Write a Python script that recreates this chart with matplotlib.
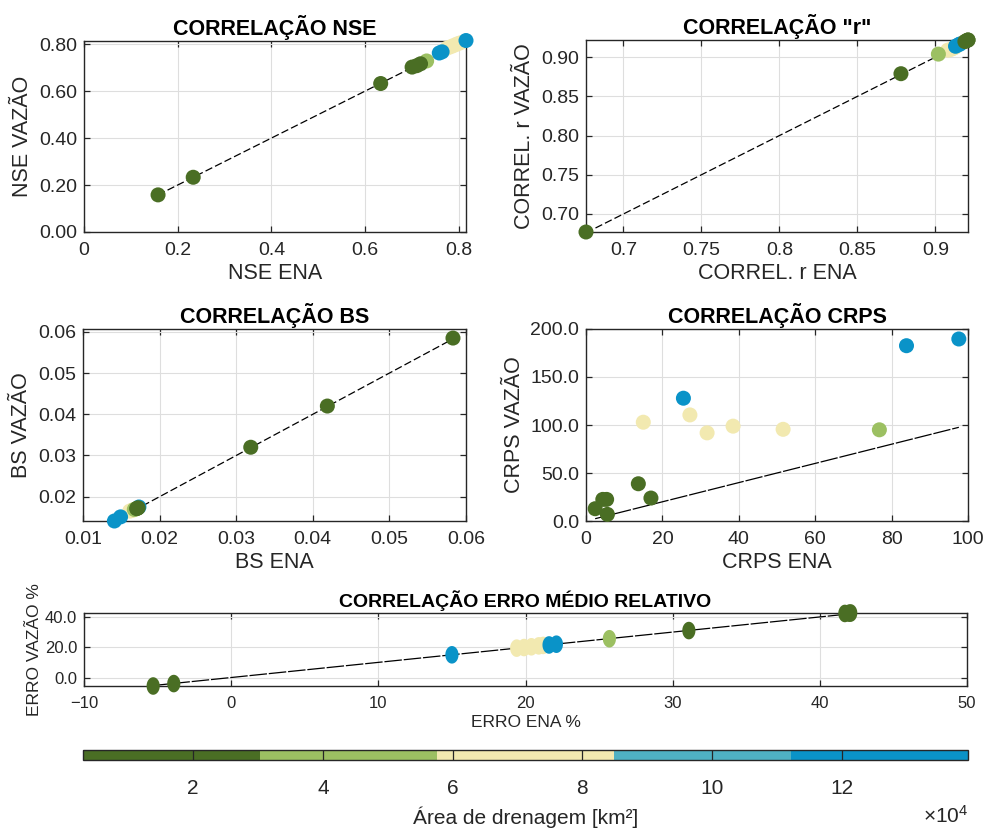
import numpy as np
import matplotlib
matplotlib.use("Agg")
import matplotlib.pyplot as plt
from matplotlib.colors import ListedColormap, Normalize
from matplotlib.path import Path

plt.rcParams["font.family"] = ["Liberation Sans", "DejaVu Sans"]

# --- dados (ordem das estacoes: creme, verde claro, azul, verde escuro) ---
area = [6.1e4, 6.6e4, 7.1e4, 7.6e4, 8.2e4,
        4.4e4,
        11.8e4, 12.6e4, 13.5e4,
        0.6e4, 0.9e4, 1.3e4, 1.8e4, 2.2e4, 2.7e4]

nse_ena = [0.775, 0.783, 0.790, 0.797, 0.804, 0.731, 0.758, 0.764, 0.815,
           0.158, 0.233, 0.633, 0.700, 0.710, 0.718]
nse_vaz = [0.783, 0.789, 0.795, 0.801, 0.806, 0.728, 0.762, 0.767, 0.815,
           0.158, 0.233, 0.632, 0.702, 0.708, 0.716]

r_ena = [0.908, 0.910, 0.911, 0.912, 0.913, 0.902, 0.913, 0.915, 0.916,
         0.676, 0.878, 0.919, 0.920, 0.921, 0.921]
r_vaz = [0.909, 0.910, 0.911, 0.912, 0.913, 0.904, 0.914, 0.916, 0.917,
         0.677, 0.879, 0.920, 0.921, 0.922, 0.922]

bs_ena = [0.0161, 0.0164, 0.0166, 0.0168, 0.0171, 0.0167, 0.0141, 0.0149, 0.0173,
          0.0583, 0.0419, 0.0319, 0.0172, 0.0170, 0.0171]
bs_vaz = [0.0165, 0.0167, 0.0168, 0.0170, 0.0172, 0.0169, 0.0141, 0.0151, 0.0175,
          0.0585, 0.0420, 0.0320, 0.0173, 0.0171, 0.0172]

crps_ena = [15.0, 27.2, 31.7, 38.5, 51.6, 76.8, 25.5, 83.9, 97.6,
            2.4, 4.4, 5.4, 5.6, 13.7, 17.0]
crps_vaz = [102.9, 110.5, 91.8, 98.8, 95.5, 95.0, 127.9, 182.6, 189.6,
            12.8, 22.5, 22.5, 6.9, 38.8, 23.9]

erro_ena = [19.4, 19.9, 20.4, 20.9, 21.2, 25.7, 15.0, 21.6, 22.1,
            -5.3, -3.9, 31.1, 41.7, 42.0, 42.1]
erro_vaz = [19.4, 19.8, 20.3, 20.9, 21.2, 25.6, 15.0, 21.5, 22.0,
            -5.6, -4.0, 31.0, 42.3, 42.5, 42.6]

cores = ["#4a6e24", "#9cc062", "#f2e9b0", "#4fb1c3", "#0a93c8"]
area_min, area_max = 0.30e4, 13.95e4
cb_ticks = [2e4, 4e4, 6e4, 8e4, 10e4, 12e4]

CINZA = "#262626"
cmap = ListedColormap(cores)
norm = Normalize(vmin=area_min, vmax=area_max)

W, H = 987, 830
fig = plt.figure(figsize=(W / 100, H / 100), dpi=100)


def eixo(l, t, r, b):
    """Cria eixo a partir da caixa em pixels (esq, topo, dir, base)."""
    return fig.add_axes([l / W, 1 - b / H, (r - l) / W, (b - t) / H])


def estilo(ax, fs_tick=14):
    ax.grid(True, color="#dedede", lw=0.8)
    ax.set_axisbelow(True)
    for s in ax.spines.values():
        s.set_color(CINZA)
        s.set_linewidth(1.0)
        s.set_zorder(2.5)
    ax.tick_params(direction="in", top=True, right=True, length=4,
                   width=0.9, color=CINZA, labelcolor=CINZA, labelsize=fs_tick)
    ax.tick_params(axis="x", pad=7)
    ax.tick_params(axis="y", pad=5)


def painel(ax, x, y, titulo, xl, yl, dashes=(6, 2.5), marker="o", s=117,
           fs_tick=14, fs_lab=15.5, fs_tit=15.5):
    x = np.asarray(x)
    lim = [x.min(), x.max()]
    ax.plot(lim, lim, color="black", lw=0.9, dashes=dashes, zorder=2)
    sc = ax.scatter(x, y, c=area, cmap=cmap, norm=norm, s=s, marker=marker,
                    edgecolors="none", zorder=3, clip_on=False)
    ax.set_title(titulo, fontsize=fs_tit, fontweight="bold", pad=4)
    ax.set_xlabel(xl, fontsize=fs_lab, color=CINZA, labelpad=3)
    ax.set_ylabel(yl, fontsize=fs_lab, color=CINZA, labelpad=4)
    estilo(ax, fs_tick)
    return sc


# NSE
ax1 = eixo(84, 41, 466, 232)
painel(ax1, nse_ena, nse_vaz, "CORRELAÇÃO NSE", "NSE ENA", "NSE VAZÃO")
ax1.set_xlim(0, max(nse_ena))
ax1.set_ylim(0, 0.813)
ax1.set_xticks([0, 0.2, 0.4, 0.6, 0.8])
ax1.set_xticklabels(["0", "0.2", "0.4", "0.6", "0.8"])
ax1.set_yticks([0, 0.2, 0.4, 0.6, 0.8])
ax1.set_yticklabels(["0.00", "0.20", "0.40", "0.60", "0.80"])

# r
ax2 = eixo(586, 40, 968, 232)
painel(ax2, r_ena, r_vaz, 'CORRELAÇÃO "r"', "CORREL. r ENA", "CORREL. r VAZÃO")
ax2.set_xlim(min(r_ena), max(r_ena))
ax2.set_ylim(min(r_vaz), max(r_vaz))
ax2.set_xticks([0.7, 0.75, 0.8, 0.85, 0.9])
ax2.set_xticklabels(["0.7", "0.75", "0.8", "0.85", "0.9"])
ax2.set_yticks([0.7, 0.75, 0.8, 0.85, 0.9])
ax2.set_yticklabels(["0.70", "0.75", "0.80", "0.85", "0.90"])

# BS
ax3 = eixo(83, 329, 466, 521)
painel(ax3, bs_ena, bs_vaz, "CORRELAÇÃO BS", "BS ENA", "BS VAZÃO")
ax3.set_xlim(0.01, 0.06)
ax3.set_ylim(min(bs_vaz), 0.0607)
ax3.set_xticks([0.01, 0.02, 0.03, 0.04, 0.05, 0.06])
ax3.set_xticklabels(["0.01", "0.02", "0.03", "0.04", "0.05", "0.06"])
ax3.set_yticks([0.02, 0.03, 0.04, 0.05, 0.06])
ax3.set_yticklabels(["0.02", "0.03", "0.04", "0.05", "0.06"])

# CRPS
ax4 = eixo(586, 329, 968, 521)
painel(ax4, crps_ena, crps_vaz, "CORRELAÇÃO CRPS", "CRPS ENA", "CRPS VAZÃO",
       dashes=(14, 1.5))
ax4.set_xlim(0, 100)
ax4.set_ylim(0, 200)
ax4.set_xticks([0, 20, 40, 60, 80, 100])
ax4.set_yticks([0, 50, 100, 150, 200])
ax4.set_yticklabels(["0.0", "50.0", "100.0", "150.0", "200.0"])

# Erro medio relativo (painel achatado: marcador eliptico)
th = np.linspace(0, 2 * np.pi, 60)
elipse = Path(np.column_stack([0.75 * np.cos(th), np.sin(th)]))
ax5 = eixo(84, 613, 967, 686)
sc = painel(ax5, erro_ena, erro_vaz, "CORRELAÇÃO ERRO MÉDIO RELATIVO",
            "ERRO ENA %", "ERRO VAZÃO %", dashes=(14, 1.5), marker=elipse,
            s=160, fs_tick=12, fs_lab=12.5, fs_tit=14)
ax5.set_xlim(-10, 50)
ax5.set_ylim(min(erro_vaz), max(erro_vaz))
ax5.set_xticks([-10, 0, 10, 20, 30, 40, 50])
ax5.set_yticks([0, 20, 40])
ax5.set_yticklabels(["0.0", "20.0", "40.0"])
ax5.yaxis.labelpad = 2

# barra de cores
cax = eixo(83, 750, 968, 760)
cb = fig.colorbar(sc, cax=cax, orientation="horizontal")
cb.set_ticks(cb_ticks)
cb.set_ticklabels([f"{t / 1e4:g}" for t in cb_ticks])
cb.ax.tick_params(direction="in", length=7.2, width=0.9, color=CINZA,
                  labelcolor=CINZA, labelsize=15, pad=14)
cb.outline.set_edgecolor(CINZA)
cb.outline.set_linewidth(1.0)
cb.set_label("Área de drenagem [km²]", fontsize=15, color=CINZA, labelpad=6)
fig.text(968 / W, 1 - 816 / H, r"$\mathregular{\times10^{4}}$", ha="right",
         va="center", fontsize=15, color=CINZA)

fig.savefig("out.png", dpi=100)
